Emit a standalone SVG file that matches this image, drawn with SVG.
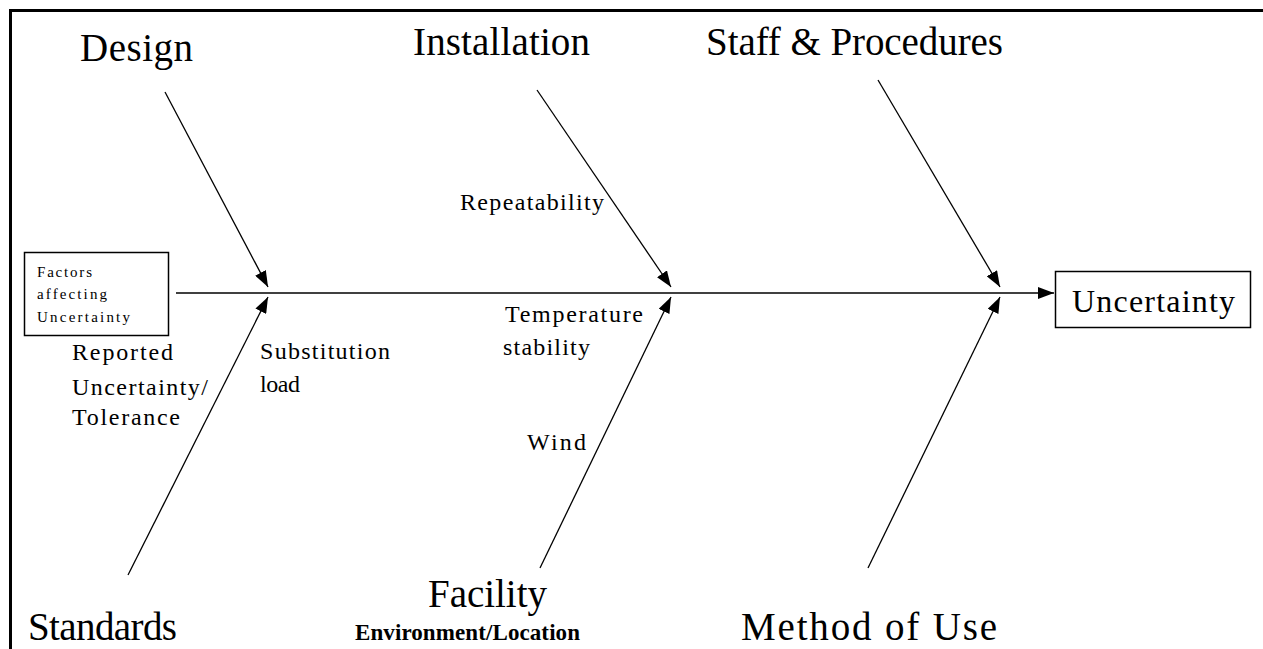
<svg xmlns="http://www.w3.org/2000/svg" width="1263" height="649" viewBox="0 0 1263 649">
<defs>
<marker id="ah" markerUnits="userSpaceOnUse" markerWidth="16" markerHeight="12" refX="16" refY="6" orient="auto">
<path d="M0,0 L16,6 L0,12 z" fill="#000"/>
</marker>
<style>
text{font-family:"Liberation Serif","Times New Roman",serif;fill:#000}
.big{font-size:39px}
.mid{font-size:24px}
.sm{font-size:15px}
.con line{stroke:#000;stroke-width:1.3;fill:none;marker-end:url(#ah)}
.box{fill:#fff;stroke:#000;stroke-width:1.5}
</style>
</defs>
<rect width="1263" height="649" fill="#fff"/>
<path d="M10.5,649 V10.5 H1263" fill="none" stroke="#000" stroke-width="3"/>
<g id="connectors" class="con">
<line x1="176" y1="293" x2="1054" y2="293"/>
<line x1="165" y1="92" x2="268" y2="287"/>
<line x1="128" y1="575" x2="268" y2="297"/>
<line x1="537" y1="90" x2="671" y2="287"/>
<line x1="540" y1="568" x2="671" y2="297"/>
<line x1="878" y1="80" x2="1000" y2="287"/>
<line x1="868" y1="568" x2="1000" y2="297"/>
</g>
<g id="factors">
<rect class="box" x="24.5" y="252.5" width="144" height="83"/>
<text class="sm" x="37" y="277" textLength="55" lengthAdjust="spacing">Factors</text>
<text class="sm" x="37" y="299" textLength="70" lengthAdjust="spacing">affecting</text>
<text class="sm" x="37" y="322" textLength="93" lengthAdjust="spacing">Uncertainty</text>
</g>
<g id="uncertainty">
<rect class="box" x="1055.5" y="271.5" width="195" height="56"/>
<text x="1072" y="312" font-size="32" textLength="163" lengthAdjust="spacing">Uncertainty</text>
</g>
<g id="design"><text class="big" x="80" y="61" textLength="113" lengthAdjust="spacing">Design</text></g>
<g id="installation"><text class="big" x="413" y="55" textLength="177" lengthAdjust="spacing">Installation</text></g>
<g id="staff"><text class="big" x="706" y="55" textLength="297" lengthAdjust="spacing">Staff &amp; Procedures</text></g>
<g id="standards"><text class="big" x="28" y="640" textLength="149" lengthAdjust="spacing">Standards</text></g>
<g id="facility">
<text class="big" x="428" y="607" textLength="119" lengthAdjust="spacing">Facility</text>
<text x="355" y="640" font-size="23" font-weight="bold" textLength="225" lengthAdjust="spacing">Environment/Location</text>
</g>
<g id="method"><text class="big" x="741" y="640" textLength="256" lengthAdjust="spacing">Method of Use</text></g>
<g id="labels">
<text class="mid" x="72" y="360" textLength="101" lengthAdjust="spacing">Reported</text>
<text class="mid" x="72" y="395" textLength="136" lengthAdjust="spacing">Uncertainty/</text>
<text class="mid" x="72" y="425" textLength="108" lengthAdjust="spacing">Tolerance</text>
<text class="mid" x="260" y="359" textLength="130" lengthAdjust="spacing">Substitution</text>
<text class="mid" x="260" y="392" textLength="40" lengthAdjust="spacing">load</text>
<text class="mid" x="460" y="210" textLength="144" lengthAdjust="spacing">Repeatability</text>
<text class="mid" x="505" y="322" textLength="138" lengthAdjust="spacing">Temperature</text>
<text class="mid" x="503" y="355" textLength="87" lengthAdjust="spacing">stability</text>
<text class="mid" x="527" y="450" textLength="59" lengthAdjust="spacing">Wind</text>
</g>
</svg>
